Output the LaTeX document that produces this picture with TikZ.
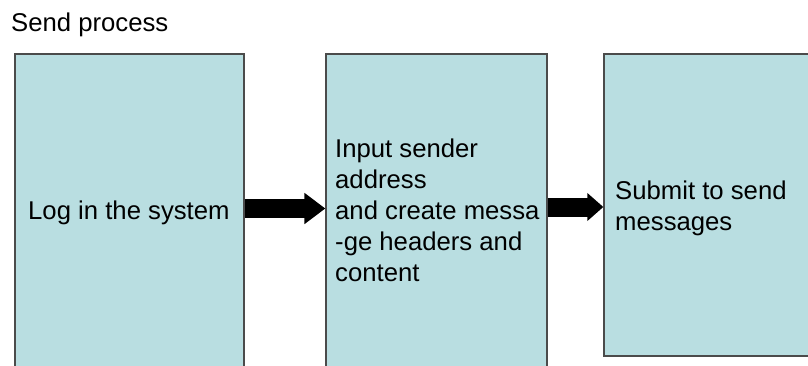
\documentclass[tikz,border=0pt]{standalone}
\usepackage{fontspec}
\setmainfont{Liberation Sans}
\usetikzlibrary{arrows.meta}
\definecolor{boxfill}{RGB}{185,222,225}
\definecolor{boxline}{RGB}{75,75,75}
\tikzset{
  stagebox/.style={draw=boxline, line width=1.3pt, fill=boxfill, rectangle, inner sep=0pt},
  label/.style={inner sep=0pt, anchor=base west, font=\fontsize{25.7}{31.2}\selectfont},
  fatarrow/.style={line width=19pt, draw=black,
    -{Triangle[length=#1]}},
}
\begin{document}
\begin{tikzpicture}[x=1pt, y=-1pt]
  \useasboundingbox (0,0) rectangle (808,365);
  \clip (0,0) rectangle (808,365);
  \fill[white] (0,0) rectangle (808,365);

  % title
  \node[label] (title) at (11,31) {Send process};

  % three stages of the send process
  \node[stagebox, minimum width=229pt, minimum height=330pt] (login) at (129.5,219) {};
  \node[stagebox, minimum width=221pt, minimum height=330pt] (compose) at (436.5,219) {};
  \node[stagebox, minimum width=220pt, minimum height=302pt] (submit) at (714,205) {};

  % stage captions
  \node[label] (logtxt) at (28,219) {Log in the system};
  \node[label] (comptxt) at (335,157) {\vtop{\baselineskip=31.2pt
      \hbox{Input sender}\hbox{address}\hbox{and create messa}\hbox{-ge headers and}\hbox{content}}};
  \node[label] (subtxt) at (615,199) {\vtop{\baselineskip=31.2pt
      \hbox{Submit to send}\hbox{messages}}};

  % flow arrows
  \coordinate (a1) at (login.east |- 0,208.5);
  \coordinate (a2) at (compose.west |- 0,208.5);
  \draw[line width=19pt, -{Triangle[length=21pt, width=30pt]}] (a1) -- (a2);
  \coordinate (b1) at (compose.east |- 0,207);
  \coordinate (b2) at (submit.west |- 0,207);
  \draw[line width=19pt, -{Triangle[length=16pt, width=27pt]}] (b1) -- (b2);
\end{tikzpicture}
\end{document}
